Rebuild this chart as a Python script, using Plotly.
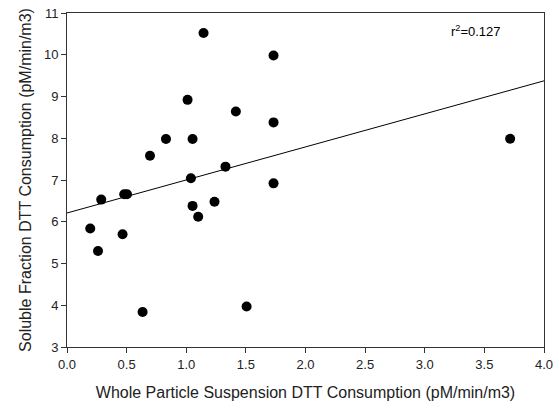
import numpy as np
import plotly.graph_objects as go

# Whole particle suspension vs soluble fraction DTT consumption (pM/min/m3)
whole_particle = [1.145, 1.732, 1.011, 1.416, 0.830, 1.053, 1.732, 0.696, 1.329,
                  1.039, 1.732, 0.480, 0.503, 0.287, 3.716, 1.053, 1.237, 1.100,
                  0.195, 0.466, 0.260, 0.634, 1.506]
soluble_fraction = [10.52, 9.98, 8.92, 8.64, 7.98, 7.98, 8.38, 7.58, 7.32,
                    7.04, 6.92, 6.66, 6.66, 6.53, 7.99, 6.38, 6.48, 6.12,
                    5.84, 5.70, 5.30, 3.84, 3.97]
r2_label = "r<sup>2</sup>=0.127"

x_ticks = [0.0, 0.5, 1.0, 1.5, 2.0, 2.5, 3.0, 3.5, 4.0]
y_ticks = [3, 4, 5, 6, 7, 8, 9, 10, 11]

slope, intercept = np.polyfit(whole_particle, soluble_fraction, 1)
fit_x = np.array([0.0, 4.0])
fit_y = intercept + slope * fit_x

fig = go.Figure()
fig.add_trace(go.Scatter(x=fit_x, y=fit_y, mode="lines",
                         line=dict(color="black", width=1), showlegend=False,
                         hoverinfo="skip"))
fig.add_trace(go.Scatter(x=whole_particle, y=soluble_fraction, mode="markers",
                         marker=dict(color="black", size=10), showlegend=False))

# plot area in pixels
plot_left, plot_right, plot_top, plot_bottom = 67, 544, 13, 347

fig.add_annotation(x=(503 - plot_left) / (plot_right - plot_left),
                   y=(plot_bottom - 31) / (plot_bottom - plot_top),
                   xref="paper", yref="paper", text=r2_label,
                   showarrow=False, xanchor="right", yanchor="middle",
                   font=dict(size=13, color="black"))

font_family = "Liberation Sans, Arial, sans-serif"
axis_common = dict(showgrid=False, zeroline=False, showline=True, mirror=True,
                   linecolor="#333333", linewidth=1, ticks="outside",
                   ticklen=5, tickcolor="#333333", automargin=False,
                   ticklabeloverflow="allow",
                   tickfont=dict(size=13, color="#222222", family=font_family))

fig.update_xaxes(range=[0, 4], tickvals=x_ticks,
                 ticktext=[f"{v:.1f}" for v in x_ticks],
                 title=dict(text="Whole Particle Suspension DTT Consumption (pM/min/m3)",
                            font=dict(size=16, color="#222222", family=font_family),
                            standoff=16),
                 **axis_common)
fig.update_yaxes(range=[3, 11], tickvals=y_ticks,
                 title=dict(text="Soluble Fraction DTT Consumption (pM/min/m3)",
                            font=dict(size=16, color="#222222", family=font_family),
                            standoff=8),
                 **axis_common)

fig.update_layout(width=553, height=407, plot_bgcolor="white", paper_bgcolor="white",
                  margin=dict(l=plot_left, r=553 - plot_right, t=plot_top,
                              b=407 - plot_bottom),
                  font=dict(family=font_family))

fig.write_html("out.html")
